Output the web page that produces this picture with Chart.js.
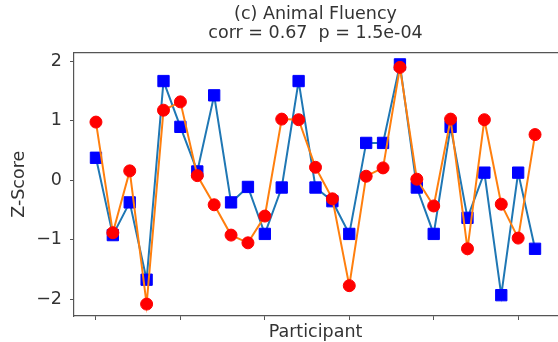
<!DOCTYPE html>
<html>
<head>
<meta charset="utf-8">
<script src="https://cdn.jsdelivr.net/npm/chart.js@4.4.1/dist/chart.umd.min.js"></script>
<style>
  html, body { margin: 0; padding: 0; overflow: hidden; background: #fff; }
  canvas { display: block; }
</style>
</head>
<body>
<canvas id="graphique" width="566" height="342"></canvas>
<script>
// Participants 0..26 (no tick labels on the x axis)
const participants = Array.from({ length: 27 }, (_, i) => i);

// Z-scores
const scoresCarres = [0.38, -0.92, -0.37, -1.67, 1.67, 0.9, 0.15, 1.43, -0.37, -0.11,
    -0.9, -0.12, 1.67, -0.12, -0.35, -0.9, 0.63, 0.63, 1.95, -0.12,
    -0.9, 0.9, -0.63, 0.13, -1.93, 0.13, -1.15];
const scoresRonds = [0.98, -0.88, 0.16, -2.08, 1.18, 1.32, 0.08, -0.41, -0.92, -1.05,
    -0.6, 1.03, 1.02, 0.22, -0.31, -1.77, 0.07, 0.21, 1.9, 0.02,
    -0.43, 1.03, -1.15, 1.02, -0.4, -0.97, 0.77];

const ticksX = [0, 5, 10, 15, 20, 25];
const ticksY = [-2, -1, 0, 1, 2];
const titre = ['(c) Animal Fluency', 'corr = 0.67  p = 1.5e-04'];

const police = { family: 'DejaVu Sans', size: 17.5, lineHeight: 1.09 };
const couleurTexte = '#333';
const couleurAxe = '#555';

function points(valeurs) {
    return participants.map((p, i) => ({ x: p, y: valeurs[i] }));
}

new Chart(document.getElementById('graphique'), {
    type: 'line',
    data: {
        datasets: [{
            label: 'Série 1',
            data: points(scoresCarres),
            borderColor: '#1f77b4',
            borderWidth: 2,
            pointStyle: 'rect',
            pointRadius: 8,
            pointBackgroundColor: '#0000ff',
            pointBorderColor: '#0000ff',
            pointBorderWidth: 1,
            tension: 0,
            order: 2,
        }, {
            label: 'Série 2',
            data: points(scoresRonds),
            borderColor: '#ff7f0e',
            borderWidth: 2,
            pointStyle: 'circle',
            pointRadius: 6,
            pointBackgroundColor: '#ff0000',
            pointBorderColor: '#ff0000',
            pointBorderWidth: 1,
            tension: 0,
            order: 1,
        }],
    },
    options: {
        responsive: false,
        animation: false,
        layout: { padding: { top: 0, left: 0, right: 4, bottom: 0 } },
        plugins: {
            legend: { display: false },
            tooltip: { enabled: false },
            title: { display: false },
        },
        scales: {
            x: {
                type: 'linear',
                min: -1.3,
                max: 27.3,
                afterBuildTicks: (scale) => { scale.ticks = ticksX.map(v => ({ value: v })); },
                afterFit: (scale) => { scale.height = 26; },
                ticks: { callback: () => '', padding: 0 },
                grid: { drawOnChartArea: false, drawTicks: true, tickLength: 4, tickColor: couleurAxe, tickWidth: 1 },
                border: { display: true, color: couleurAxe, width: 1.2 },
                title: { display: true, text: 'Participant', color: couleurTexte, font: police, padding: { top: 0, bottom: 0 } },
            },
            x2: {
                type: 'linear',
                position: 'top',
                min: -1.3,
                max: 27.3,
                afterBuildTicks: (scale) => { scale.ticks = []; },
                afterFit: (scale) => { scale.height = 52.5; },
                ticks: { display: false },
                grid: { display: false, drawTicks: false },
                border: { display: true, color: couleurAxe, width: 1.2 },
                title: { display: true, text: titre, color: couleurTexte, font: police, padding: { top: 4.5, bottom: 0 } },
            },
            y: {
                min: -2.28,
                max: 2.15,
                afterBuildTicks: (scale) => { scale.ticks = ticksY.map(v => ({ value: v })); },
                afterFit: (scale) => { scale.width = 74; },
                ticks: {
                    color: couleurTexte,
                    font: police,
                    padding: 8,
                    callback: (v) => String(v).replace('-', '\u2212'),
                },
                grid: { drawOnChartArea: false, drawTicks: true, tickLength: 4, tickColor: couleurAxe, tickWidth: 1 },
                border: { display: true, color: couleurAxe, width: 1.2 },
                title: { display: true, text: 'Z-Score', color: couleurTexte, font: police, padding: { top: 10, bottom: 0 } },
            },
        },
    },
});
</script>
</body>
</html>
